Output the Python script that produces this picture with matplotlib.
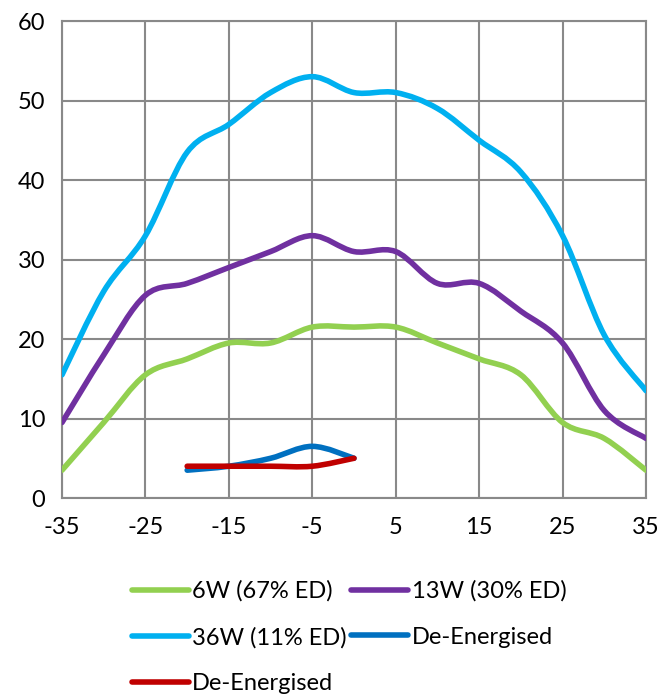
import numpy as np
import matplotlib
matplotlib.use('Agg')
import matplotlib.pyplot as plt
from matplotlib.path import Path
from matplotlib.patches import PathPatch
from matplotlib.lines import Line2D

plt.rcParams['font.family'] = ['Lato', 'DejaVu Sans']
plt.rcParams['axes.unicode_minus'] = False

temps = [-35, -30, -25, -20, -15, -10, -5, 0, 5, 10, 15, 20, 25, 30, 35]
w6 = [3.5, 9.5, 15.5, 17.5, 19.5, 19.5, 21.5, 21.5, 21.5, 19.5, 17.5, 15.5, 9.5, 7.5, 3.5]
w13 = [9.5, 18, 25.5, 27, 29, 31, 33, 31, 31, 27, 27, 23.5, 19.5, 11, 7.5]
w36 = [15.5, 26, 33, 43.5, 47, 51, 53, 51, 51, 49, 45, 41, 33, 20.5, 13.5]
de_temps = [-20, -15, -10, -5, 0]
de_blue = [3.5, 4, 5, 6.5, 5]
de_red = [4, 4, 4, 4, 5]

series = [
    ('6W (67% ED)', temps, w6, '#92D050'),
    ('13W (30% ED)', temps, w13, '#7030A0'),
    ('36W (11% ED)', temps, w36, '#00B0F0'),
    ('De-Energised', de_temps, de_blue, '#0070C0'),
    ('De-Energised', de_temps, de_red, '#C00000'),
]


def smoothPath(xs, ys):
    # excel style smoothed line: cubic bezier through the points
    pts = np.column_stack([xs, ys]).astype(float)
    n = len(pts)
    verts = [pts[0]]
    codes = [Path.MOVETO]
    for i in range(n - 1):
        p0 = pts[i - 1] if i > 0 else pts[i]
        p1 = pts[i]
        p2 = pts[i + 1]
        p3 = pts[i + 2] if i + 2 < n else pts[i + 1]
        c1 = p1 + (p2 - p0) / 6.0
        c2 = p2 - (p3 - p1) / 6.0
        verts += [c1, c2, p2]
        codes += [Path.CURVE4] * 3
    return Path(verts, codes)


fig = plt.figure(figsize=(6.62, 6.98), dpi=100)
ax = fig.add_axes([0.0937, 0.2865, 0.8821, 0.6834])

handles = []
for label, xs, ys, color in series:
    patch = PathPatch(smoothPath(xs, ys), facecolor='none', edgecolor=color,
                      lw=4, capstyle='round', joinstyle='round', zorder=3)
    ax.add_patch(patch)
    handles.append(Line2D([], [], color=color, lw=4, solid_capstyle='round', label=label))

ax.set_xlim(-35, 35)
ax.set_ylim(0, 60)
ax.set_xticks(range(-35, 36, 10))
ax.set_yticks(range(0, 61, 10))
ax.grid(True, color='#898989', lw=1.5)
ax.set_axisbelow(True)
for s in ax.spines.values():
    s.set_color('#898989')
    s.set_linewidth(1.5)
ax.tick_params(length=0, labelsize=17)
ax.tick_params(axis='x', pad=14)
ax.tick_params(axis='y', pad=12)

order = [0, 2, 4, 1, 3]
fig.legend([handles[i] for i in order], [handles[i].get_label() for i in order],
           loc='upper left', bbox_to_anchor=(0.185, 0.182), ncol=2, frameon=False,
           fontsize=17, handlelength=2.4, handletextpad=0.15, columnspacing=0.2,
           labelspacing=1.05, borderaxespad=0)

fig.savefig('out.png', dpi=100)
